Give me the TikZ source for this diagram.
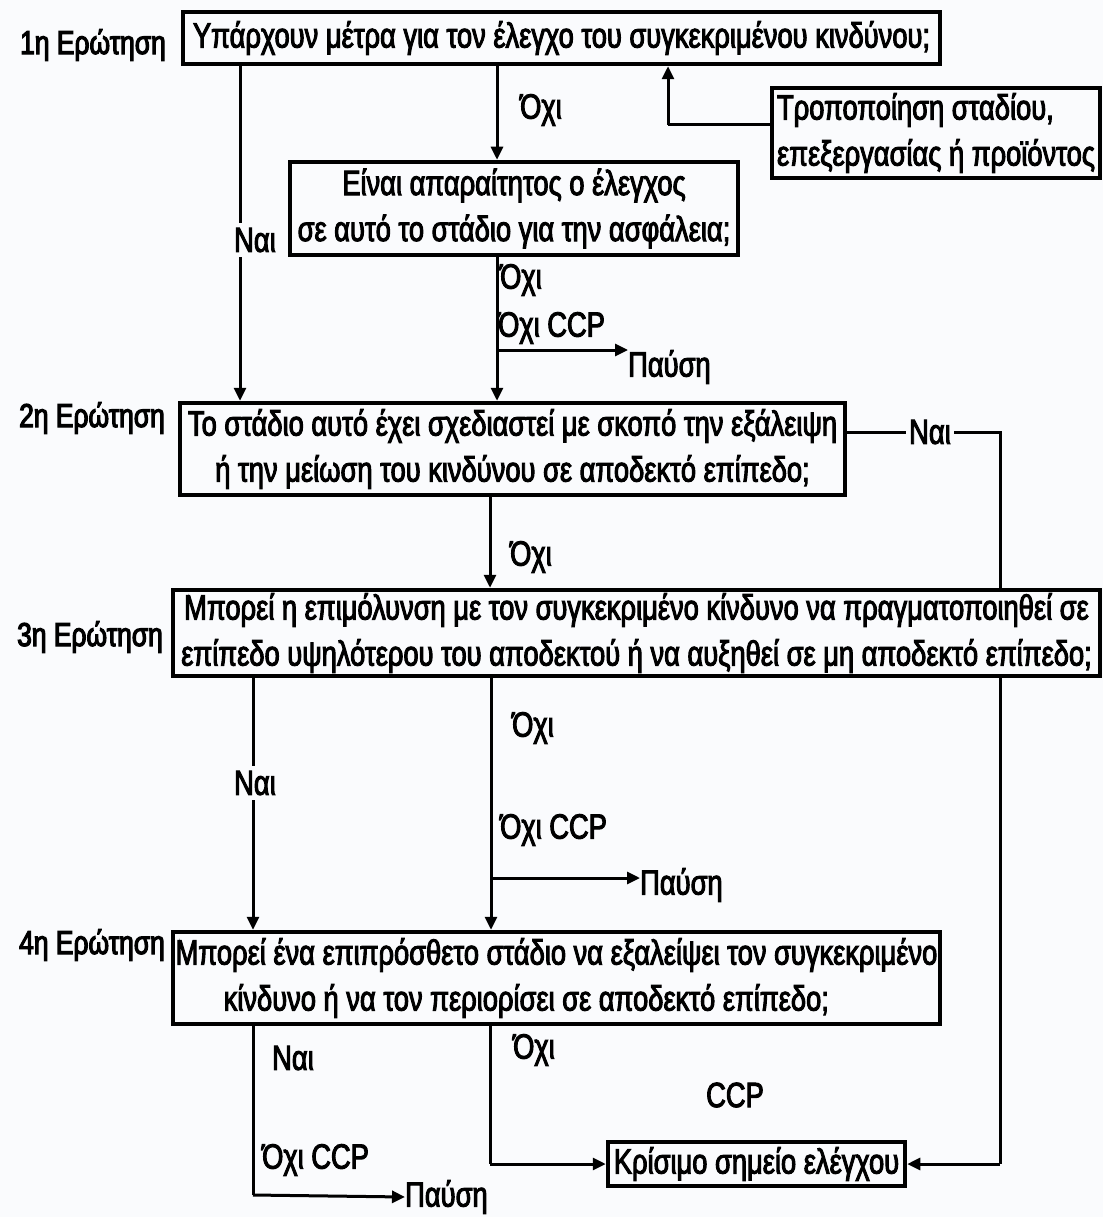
\documentclass[tikz,border=0pt]{standalone}
\usepackage{fontspec}
\setmainfont[FakeStretch=0.78,FakeBold=2.8]{Liberation Sans}
\newfontfamily\sidefont[FakeStretch=0.8,FakeBold=3.5]{Liberation Sans}
\usetikzlibrary{arrows.meta,calc}
\definecolor{paper}{RGB}{250,251,253}
\pgfdeclarelayer{paperlayer}
\pgfdeclarelayer{wires}
\pgfsetlayers{paperlayer,wires,main}
\tikzset{
  every node/.style={font=\fontsize{35}{46}\selectfont, inner sep=0pt},
  qbox/.style={draw, line width=4.5pt, fill=paper, align=center},
  flow/.style={line width=3pt, -{Triangle[length=13pt,width=12pt]}},
  plain/.style={line width=3pt},
  lbl/.style={anchor=west},
  onwire/.style={fill=paper, inner xsep=3pt, inner ysep=5pt},
  side/.style={font=\sidefont\fontsize{33}{36}\selectfont},
}
\begin{document}
\begin{tikzpicture}[x=1pt,y=-1pt]
\begin{pgfonlayer}{paperlayer}
\fill[paper] (0,0) rectangle (1103,1217);
\end{pgfonlayer}
\useasboundingbox (0,0) rectangle (1103,1217);

% question labels on the left
\node[side] (s1) at (93,45) {1η Ερώτηση};
\node[side] (s2) at (92,418) {2η Ερώτηση};
\node[side] (s3) at (90,637) {3η Ερώτηση};
\node[side] (s4) at (92,945) {4η Ερώτηση};

% boxes
\node[qbox, minimum width=757pt, minimum height=52pt] (q1) at (561.5,38)
  {Υπάρχουν μέτρα για τον έλεγχο του συγκεκριμένου κινδύνου;};
\node[qbox, align=left, minimum width=328pt, minimum height=90pt] (mod) at (936,133)
  {Τροποποίηση σταδίου,\\επεξεργασίας ή προϊόντος};
\node[qbox, minimum width=448pt, minimum height=93pt] (need) at (514,208.5)
  {Είναι απαραίτητος ο έλεγχος\\σε αυτό το στάδιο για την ασφάλεια;};
\node[qbox, minimum width=665pt, minimum height=92pt] (q2) at (512.5,449)
  {Το στάδιο αυτό έχει σχεδιαστεί με σκοπό την εξάλειψη\\ή την μείωση του κινδύνου σε αποδεκτό επίπεδο;};
\node[qbox, minimum width=927pt, minimum height=86pt] (q3) at (636.5,633)
  {Μπορεί η επιμόλυνση με τον συγκεκριμένο κίνδυνο να πραγματοποιηθεί σε\\επίπεδο υψηλότερου του αποδεκτού ή να αυξηθεί σε μη αποδεκτό επίπεδο;};
\node[qbox, align=left, minimum width=767pt, minimum height=92pt] (q4) at (556.5,978)
  {Μπορεί ένα επιπρόσθετο στάδιο να εξαλείψει τον συγκεκριμένο\\\hspace*{48pt}κίνδυνο ή να τον περιορίσει σε αποδεκτό επίπεδο;};
\node[qbox, minimum width=297pt, minimum height=44pt] (ccp) at (756.5,1164)
  {Κρίσιμο σημείο ελέγχου};

% end points
\node[anchor=west] (stop1) at (628,367) {Παύση};
\node[anchor=west] (stop2) at (640,885) {Παύση};
\node[anchor=west] (stop3) at (405,1197) {Παύση};
\node (ccplbl) at (735,1095) {CCP};

% column positions of the connectors
\coordinate (ca) at (240,0);
\coordinate (cb) at (497,0);
\coordinate (cc) at (668,0);
\coordinate (cd) at (490,0);
\coordinate (ce) at (253,0);
\coordinate (cf) at (491,0);
\coordinate (cg) at (1000,0);
% row positions
\coordinate (ra) at (0,125);
\coordinate (rb) at (0,350);
\coordinate (rc) at (0,432);
\coordinate (rd) at (0,878);
\coordinate (re) at (0,1195);
\coordinate (rf) at (0,1164);

% labels sitting on the wires
\node[onwire] (yes1) at (255,240) {Ναι};
\node[onwire] (yes2) at (930,432) {Ναι};
\node[onwire] (yes3) at (255,783) {Ναι};

% labels beside the wires
\node[lbl] (no1) at (520,110) {Όχι};
\node[lbl] (no2) at (500,280) {Όχι};
\node[lbl] (noccp1) at (498,328) {Όχι CCP};
\node[lbl] (no3) at (510,557) {Όχι};
\node[lbl] (no4) at (512,728) {Όχι};
\node[lbl] (noccp2) at (500,830) {Όχι CCP};
\node[lbl] (yes4) at (272,1058) {Ναι};
\node[lbl] (noccp3) at (262,1160) {Όχι CCP};
\node[lbl] (no5) at (513,1050) {Όχι};

\begin{pgfonlayer}{wires}
% question 1
\draw[flow] (q1.south -| cb) -- (need.north -| cb);
\draw[plain] (mod.west |- ra) -- (ra -| cc);
\draw[flow] (ra -| cc) -- (q1.south -| cc);
\draw[plain] (q1.south -| ca) -- (yes1.north -| ca);
\draw[flow] (yes1.south -| ca) -- (q2.north -| ca);

% need for control
\draw[flow] (need.south -| cb) -- (q2.north -| cb);
\draw[flow] (rb -| cb) -- (rb -| stop1.west);

% question 2
\draw[plain] (q2.east |- rc) -- (yes2.west);
\draw[plain] (yes2.east) -- (rc -| cg) -- (rf -| cg);
\draw[flow] (rf -| cg) -- (ccp.east);
\draw[flow] (q2.south -| cd) -- (q3.north -| cd);

% question 3
\draw[plain] (q3.south -| ce) -- (yes3.north -| ce);
\draw[flow] (yes3.south -| ce) -- (q4.north -| ce);
\draw[flow] (q3.south -| cf) -- (q4.north -| cf);
\draw[flow] (rd -| cf) -- (rd -| stop2.west);

% question 4
\draw[plain] (q4.south -| ce) -- (re -| ce);
\draw[flow] (re -| ce) -- (stop3.west);
\draw[plain] (q4.south -| cd) -- (rf -| cd);
\draw[flow] (rf -| cd) -- (ccp.west);
\end{pgfonlayer}
\end{tikzpicture}
\end{document}
